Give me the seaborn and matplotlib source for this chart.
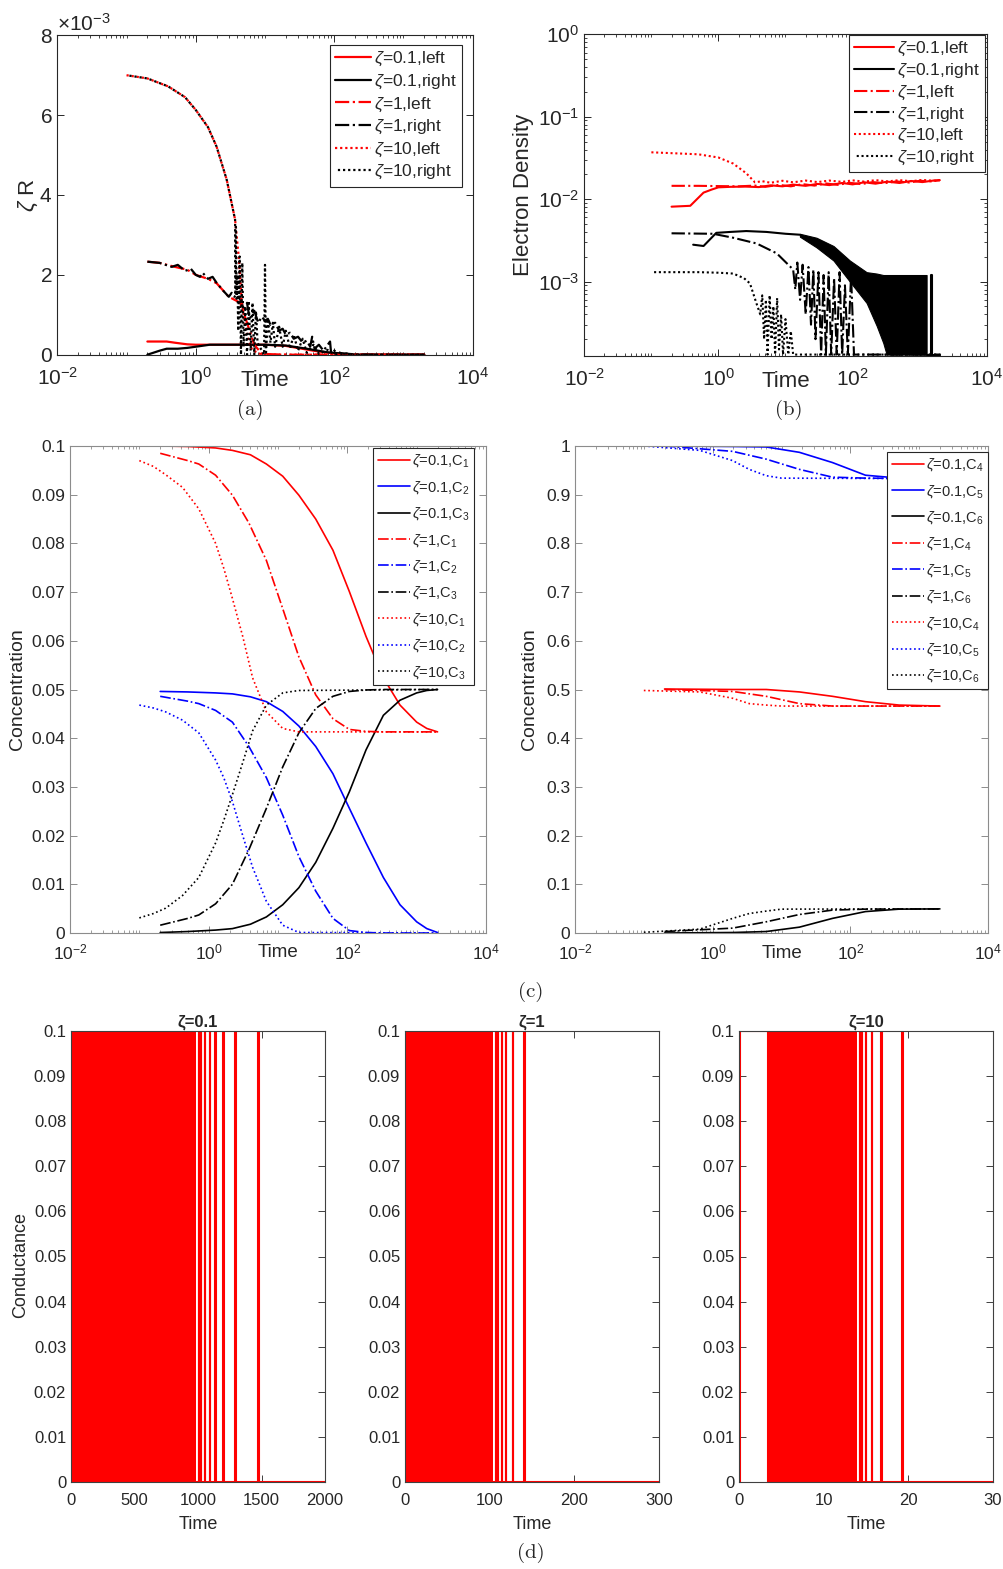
import matplotlib
matplotlib.use('Agg')
import matplotlib.pyplot as plt
import matplotlib.ticker as mticker
import numpy as np
import seaborn as sns

# ---------------- (a) zeta*R, values in units of 1e-3 ----------------
a_t_z01_left = [0.2, 0.38, 0.5, 0.75, 1.0, 3.0, 10, 20, 50, 100, 200, 2000]
a_v_z01_left = [0.33, 0.33, 0.30, 0.26, 0.25, 0.25, 0.25, 0.22, 0.10, 0.03, 0.0, 0.0]
a_t_z01_right = [0.2, 0.3, 0.38, 0.55, 0.75, 1.0, 1.6, 3.0, 10, 20, 40, 80, 150, 220, 2000]
a_v_z01_right = [0.0, 0.10, 0.15, 0.15, 0.17, 0.20, 0.25, 0.25, 0.25, 0.23, 0.15, 0.06, 0.02, 0.0, 0.0]
a_t_z1_left = [0.2, 0.3, 0.5, 0.75, 1.0, 1.5, 2.0, 3.0, 4.4, 5.5, 7.0, 9.0, 20, 2000]
a_v_z1_left = [2.33, 2.30, 2.20, 2.13, 2.00, 1.90, 1.79, 1.45, 1.30, 0.80, 0.25, 0.02, 0.0, 0.0]
a_t_z1_right = [0.2, 0.3, 0.45, 0.55, 0.7, 0.85, 1.0, 1.15, 1.26, 1.5,
                1.75, 2.0, 2.5, 3.0, 3.3, 3.6, 4.0, 4.5, 5.0, 5.5,
                6.0, 7.0, 8.0, 9.0, 10, 11, 12, 14, 16, 18,
                20, 23, 26, 30, 35, 40, 45, 48, 52, 60,
                70, 87, 90, 100, 130, 200, 400, 2000]
a_v_z1_right = [2.33, 2.30, 2.20, 2.25, 2.10, 2.15, 2.00, 1.95, 2.05, 1.90,
                1.95, 1.80, 1.60, 1.45, 1.55, 1.45, 1.50, 1.35, 1.10, 1.30,
                0.90, 1.10, 0.80, 0.95, 0.85, 0.90, 0.75, 0.80, 0.60, 0.65,
                0.50, 0.55, 0.40, 0.45, 0.30, 0.35, 0.20, 0.45, 0.15, 0.25,
                0.10, 0.33, 0.05, 0.10, 0.03, 0.01, 0.0, 0.0]
a_t_z10_left = [0.1, 0.2, 0.4, 0.7, 1.0, 1.5, 2.0, 2.8, 3.7, 4.2, 4.6, 5.5, 6.5, 9.0, 20, 2000]
a_v_z10_left = [7.0, 6.92, 6.72, 6.45, 6.13, 5.70, 5.21, 4.38, 3.38, 2.40, 1.33, 0.50, 0.12, 0.0, 0.0, 0.0]
a_t_z10_right = [0.1, 0.2, 0.4, 0.7, 1.0, 1.5, 2.0, 2.8, 3.7,
                 3.75, 3.8, 3.9, 4.0, 4.1, 4.3, 4.5, 4.7, 4.9, 5.2,
                 5.5, 5.8, 6.2, 6.6, 7.0, 7.4, 7.8, 9.7, 10.0, 10.3,
                 11, 12, 13, 14, 16, 18, 20, 23, 26, 30,
                 35, 40, 50, 60, 80, 100, 150, 200, 2000]
a_v_z10_right = [7.0, 6.92, 6.72, 6.45, 6.13, 5.70, 5.21, 4.38, 3.38,
                 1.50, 3.20, 1.40, 2.00, 0.60, 2.46, 0.0, 2.30, 0.20, 1.20,
                 0.0, 1.35, 0.10, 1.30, 0.0, 1.10, 0.30, 0.0, 2.25, 0.0,
                 0.90, 0.30, 0.80, 0.20, 0.70, 0.20, 0.60, 0.15, 0.50, 0.10,
                 0.40, 0.05, 0.25, 0.02, 0.12, 0.01, 0.03, 0.0, 0.0]

# ---------------- (b) electron density ----------------
b_t_z01_left = [0.2, 0.38, 0.6, 0.8, 1.0, 1.5, 2.5, 4, 6, 9,
                13, 20, 30, 45, 70, 100, 150, 220, 330, 500,
                750, 1100, 1600, 2000]
b_v_z01_left = [0.0081, 0.0083, 0.0120, 0.0131, 0.0139, 0.0141, 0.0142, 0.0140, 0.0147, 0.0143,
                0.0150, 0.0145, 0.0153, 0.0148, 0.0157, 0.0151, 0.0160, 0.0154, 0.0163, 0.0157,
                0.0166, 0.0161, 0.0168, 0.0170]
b_t_z01_right = [0.42, 0.6, 0.93, 1.5, 2.6, 5.2, 10, 16.4]
b_v_z01_right = [0.0028, 0.0027, 0.0039, 0.0040, 0.0041, 0.0040, 0.0038, 0.0037]
b_band_t = [16.4, 29, 52, 91, 162, 229, 287, 322, 600, 1000, 1270]
b_band_hi = [0.0038, 0.0034, 0.0027, 0.0018, 0.0013, 0.00125, 0.0012, 0.0012, 0.0012, 0.0012, 0.0012]
b_band_lo = [0.0035, 0.0026, 0.0018, 0.00100, 0.00055, 0.00029, 0.00018, 0.00013, 0.00013, 0.00013, 0.00013]
b_tail_t = [1270, 1500, 1500, 1510, 1510, 2000]
b_tail_v = [0.00013, 0.00013, 0.0012, 0.0012, 0.00013, 0.00013]
b_t_z1_left = [0.2, 0.5, 1.0, 2.0, 3.5, 5, 8, 12, 18, 27, 40, 60, 90, 135, 200, 300, 450, 700, 1000, 1500, 2000]
b_v_z1_left = [0.0145, 0.0145, 0.0144, 0.0143, 0.0146, 0.0141, 0.0149, 0.0143, 0.0152, 0.0146, 0.0155,
               0.0149, 0.0158, 0.0152, 0.0161, 0.0156, 0.0164, 0.0159, 0.0167, 0.0164, 0.0170]
b_t_z1_right = [0.2, 0.83, 1.66, 3.7, 7.4, 11, 13,
                14, 15, 16.5, 18, 20, 22, 24, 26, 28, 31,
                34, 37, 40, 44, 48, 53, 58, 64, 70, 77,
                85, 95, 105, 115, 2000]
b_v_z1_right = [0.00385, 0.0038, 0.0034, 0.0029, 0.0022, 0.0016, 0.0014,
                0.0008, 0.0017, 0.0006, 0.0016, 0.0004, 0.0015, 0.0003, 0.0014, 0.0002, 0.0013,
                0.00013, 0.0012, 0.00013, 0.0013, 0.00013, 0.0011, 0.00013, 0.0013, 0.00013, 0.0009,
                0.00013, 0.0012, 0.00013, 0.00013, 0.00013]
b_t_z10_left = [0.1, 0.5, 1.0, 1.66, 2.6, 3.5, 4.5, 6, 9, 13,
                20, 30, 45, 70, 100, 150, 220, 330, 500, 750,
                1100, 1600, 2000]
b_v_z10_left = [0.037, 0.035, 0.032, 0.027, 0.0206, 0.016, 0.0165, 0.0158, 0.0167, 0.0160,
                0.0168, 0.0161, 0.0168, 0.0162, 0.0169, 0.0163, 0.0170, 0.0164, 0.0170, 0.0165,
                0.0171, 0.0167, 0.0170]
b_t_z10_right = [0.1, 0.5, 1.0, 1.66, 2.4, 2.95, 3.7, 4.2,
                 4.5, 4.8, 5.1, 5.4, 5.8, 6.2, 6.6, 7.0, 7.5, 8.0,
                 8.6, 9.2, 10, 11, 12, 13, 2000]
b_v_z10_right = [0.0013, 0.0013, 0.00128, 0.00125, 0.0011, 0.00095, 0.00054, 0.0004,
                 0.00068, 0.0002, 0.0006, 0.00013, 0.00068, 0.0002, 0.0005, 0.00013, 0.00063, 0.00015,
                 0.0004, 0.00013, 0.00035, 0.00013, 0.00025, 0.00013, 0.00013]

# ---------------- (c) concentrations ----------------
c_t_z01 = [0.2, 0.5, 1.26, 2.2, 4.0, 6.8, 11.7, 20, 35, 62, 107, 186, 331, 575, 1000, 1400, 2000]
c_C1_z01 = [0.1, 0.0999, 0.0996, 0.0991, 0.0982, 0.0963, 0.0938, 0.0899, 0.085, 0.0786, 0.0701,
            0.0609, 0.0524, 0.0468, 0.0433, 0.0420, 0.0413]
c_C2_z01 = [0.0496, 0.0495, 0.0493, 0.0491, 0.0485, 0.0475, 0.0455, 0.0425, 0.0383, 0.0327, 0.0256,
            0.0185, 0.0114, 0.0058, 0.0023, 0.0009, 0.0001]
c_C3_z01 = [0.0001, 0.0003, 0.0006, 0.0009, 0.0018, 0.0033, 0.0058, 0.0093, 0.0145, 0.0215, 0.029,
            0.0376, 0.0447, 0.0478, 0.0493, 0.0498, 0.05]
c_t_z1 = [0.2, 0.5, 0.72, 1.26, 2.2, 3.8, 6.8, 11.7, 20, 35, 62, 107, 186, 331, 2000]
c_C1_z1 = [0.0985, 0.0970, 0.0963, 0.0940, 0.0899, 0.0842, 0.0765, 0.0666, 0.0567, 0.0489, 0.0440,
           0.0418, 0.0414, 0.0413, 0.0413]
c_C2_z1 = [0.0486, 0.0476, 0.0471, 0.0457, 0.0433, 0.0383, 0.0319, 0.0242, 0.0157, 0.0086, 0.003,
           0.0005, 0.0001, 0.0, 0.0]
c_C3_z1 = [0.0016, 0.003, 0.0037, 0.006, 0.01, 0.0171, 0.0256, 0.0341, 0.0411, 0.0461, 0.0486,
           0.0496, 0.0499, 0.05, 0.05]
c_t_z10 = [0.1, 0.16, 0.24, 0.42, 0.72, 1.26, 1.66, 2.2, 3.1, 4.3, 6.8, 11.7, 20, 2000]
c_C1_z10 = [0.097, 0.0958, 0.0941, 0.0915, 0.0871, 0.080, 0.0748, 0.0687, 0.0609, 0.0524, 0.0454,
            0.0420, 0.0413, 0.0413]
c_C2_z10 = [0.0468, 0.0462, 0.0454, 0.0437, 0.0411, 0.0355, 0.0318, 0.027, 0.020, 0.0135, 0.0065,
            0.0016, 0.0001, 0.0]
c_C3_z10 = [0.0031, 0.004, 0.0051, 0.0077, 0.0114, 0.0185, 0.0232, 0.0284, 0.035, 0.0415, 0.0468,
            0.0493, 0.0498, 0.05]

c_t2_z01 = [0.2, 1.95, 6.0, 18.2, 55, 166, 513, 2000]
c_C4_z01 = [0.501, 0.500, 0.500, 0.495, 0.486, 0.475, 0.468, 0.466]
c_C5_z01 = [1.0, 0.999, 0.998, 0.987, 0.966, 0.940, 0.934, 0.933]
c_C6_z01 = [0.0, 0.001, 0.003, 0.012, 0.030, 0.044, 0.049, 0.0495]
c_t2_z1 = [0.2, 1.95, 6.0, 18.2, 55, 166, 2000]
c_C4_z1 = [0.500, 0.496, 0.486, 0.471, 0.466, 0.466, 0.466]
c_C5_z1 = [1.0, 0.989, 0.973, 0.952, 0.936, 0.934, 0.933]
c_C6_z1 = [0.003, 0.010, 0.023, 0.038, 0.047, 0.049, 0.0495]
c_t2_z10 = [0.1, 0.65, 1.95, 3.4, 6.0, 10, 2000]
c_C4_z10 = [0.498, 0.495, 0.482, 0.471, 0.468, 0.466, 0.466]
c_C5_z10 = [1.0, 0.991, 0.970, 0.952, 0.939, 0.934, 0.933]
c_C6_z10 = [0.0014, 0.008, 0.030, 0.040, 0.045, 0.049, 0.0495]

# ---------------- (d) conductance ----------------
d_titles = ['ζ=0.1', 'ζ=1', 'ζ=10']
d_tmax = [2000, 300, 30]
d_xticks = [[0, 500, 1000, 1500, 2000], [0, 100, 200, 300], [0, 10, 20, 30]]
d_dense = [(0, 982), (0, 103.6), (3.4, 13.9)]
d_pulse_on = [[1007, 1023, 1055, 1094, 1137, 1198, 1289, 1473],
              [107.5, 110, 114.6, 119, 127.6, 140.3],
              [0.1, 14.3, 14.5, 15.0, 15.7, 16.8, 19.25]]
d_pulse_off = [[1010, 1026, 1058, 1097, 1140, 1203, 1296, 1480],
               [107.9, 110.4, 115, 119.4, 128, 141.2],
               [3.4, 14.35, 14.55, 15.05, 15.75, 16.85, 19.4]]
d_high = 0.1

# ---------------- style ----------------
sns.set_style('ticks')
plt.rcParams['font.family'] = ['Liberation Sans', 'DejaVu Sans']
plt.rcParams.update({
    'mathtext.fontset': 'custom',
    'mathtext.rm': 'Liberation Sans',
    'mathtext.it': 'Liberation Sans:italic',
    'mathtext.bf': 'Liberation Sans:bold',
    'axes.linewidth': 0.8,
})
AX_COL = '#262626'
RED, BLUE, BLACK = '#ff0000', '#0000ff', '#000000'
DOT_R = (0, (1, 1.3))
DOT_K = (1.0, (1, 1.3))

fig = plt.figure(figsize=(10.04, 15.69), dpi=100)
W, H = 1004.0, 1569.0


def add_ax(left, top, right, bottom):
    return fig.add_axes([left / W, 1 - bottom / H, (right - left) / W, (bottom - top) / H])


def draw(ax, t, v, color, ls, lw, label=None, scale=1.0):
    sns.lineplot(x=np.asarray(t, float), y=np.asarray(v, float) * scale, ax=ax,
                 color=color, linestyle=ls, linewidth=lw, label=label,
                 estimator=None, sort=False)


def frame(ax, size, col=AX_COL, xpad=4):
    for s in ax.spines.values():
        s.set_color(col)
        s.set_linewidth(0.8)
    ax.tick_params(which='both', direction='in', top=True, right=True,
                   colors=col, labelcolor=AX_COL, labelsize=size)
    ax.tick_params(which='major', length=5, width=0.7)
    ax.tick_params(which='minor', length=2.5, width=0.6)
    ax.tick_params(axis='x', which='major', pad=xpad)


def log_x(ax):
    ax.set_xscale('log')
    ax.set_xlim(1e-2, 1e4)
    ax.set_xticks([1e-2, 1e0, 1e2, 1e4])
    ax.xaxis.set_minor_locator(mticker.LogLocator(base=10, subs=np.arange(1, 10), numticks=60))
    ax.xaxis.set_minor_formatter(mticker.NullFormatter())


def legend(ax, anchor, size, hl, spacing):
    h, l = ax.get_legend_handles_labels()
    leg = ax.legend(h, l, loc='upper right', bbox_to_anchor=anchor, fontsize=size,
                    handlelength=hl, handletextpad=0.15, labelspacing=spacing,
                    borderpad=0.3, borderaxespad=0, fancybox=False, framealpha=1,
                    edgecolor=AX_COL)
    leg.get_frame().set_linewidth(0.8)


def time_label(ax, y, size):
    ax.set_xlabel('Time', fontsize=size, color=AX_COL)
    ax.xaxis.set_label_coords(0.5, y)
    ax.xaxis.label.set_va('center')


def y_label(ax, text, x, size, y=0.5):
    ax.set_ylabel(text, fontsize=size, color=AX_COL)
    ax.yaxis.set_label_coords(x, y)
    ax.yaxis.label.set_va('center')


# ---------------- panel (a) ----------------
ax = add_ax(57.3, 35.3, 472.7, 354.7)
lw = 1.6
draw(ax, a_t_z01_left, a_v_z01_left, RED, '-', lw, r'$\zeta$=0.1,left', 1e-3)
draw(ax, a_t_z01_right, a_v_z01_right, BLACK, '-', lw, r'$\zeta$=0.1,right', 1e-3)
draw(ax, a_t_z1_left, a_v_z1_left, RED, '-.', lw, r'$\zeta$=1,left', 1e-3)
draw(ax, a_t_z1_right, a_v_z1_right, BLACK, '-.', lw, r'$\zeta$=1,right', 1e-3)
draw(ax, a_t_z10_left, a_v_z10_left, RED, DOT_R, lw, r'$\zeta$=10,left', 1e-3)
draw(ax, a_t_z10_right, a_v_z10_right, BLACK, DOT_K, lw, r'$\zeta$=10,right', 1e-3)
log_x(ax)
ax.set_ylim(0, 8e-3)
ax.set_yticks([0, 2e-3, 4e-3, 6e-3, 8e-3])
fmt = mticker.ScalarFormatter(useMathText=True)
fmt.set_powerlimits((-2, 2))
ax.yaxis.set_major_formatter(fmt)
frame(ax, 15, xpad=9)
ax.yaxis.get_offset_text().set_fontsize(15)
ax.yaxis.get_offset_text().set_color(AX_COL)
time_label(ax, -0.082, 16)
y_label(ax, r'$\zeta$ R', -0.07, 16)
legend(ax, (0.974, 0.970), 12.5, 2.1, 0.25)

# ---------------- panel (b) ----------------
ax = add_ax(584.3, 34.3, 986.7, 355.7)
lw = 1.5
draw(ax, b_t_z01_left, b_v_z01_left, RED, '-', lw, r'$\zeta$=0.1,left')
draw(ax, b_t_z01_right, b_v_z01_right, BLACK, '-', lw, r'$\zeta$=0.1,right')
ax.fill_between(b_band_t, b_band_lo, b_band_hi, color=BLACK, lw=0.8, edgecolor=BLACK)
draw(ax, b_tail_t, b_tail_v, BLACK, '-', lw)
draw(ax, b_t_z1_left, b_v_z1_left, RED, '-.', lw, r'$\zeta$=1,left')
draw(ax, b_t_z1_right, b_v_z1_right, BLACK, '-.', lw, r'$\zeta$=1,right')
draw(ax, b_t_z10_left, b_v_z10_left, RED, DOT_R, lw, r'$\zeta$=10,left')
draw(ax, b_t_z10_right, b_v_z10_right, BLACK, DOT_K, lw, r'$\zeta$=10,right')
log_x(ax)
ax.set_yscale('log')
ax.set_ylim(1.26e-4, 1)
ax.set_yticks([1e-3, 1e-2, 1e-1, 1e0])
ax.yaxis.set_minor_locator(mticker.LogLocator(base=10, subs=np.arange(2, 10), numticks=60))
ax.yaxis.set_minor_formatter(mticker.NullFormatter())
frame(ax, 15, xpad=9)
time_label(ax, -0.079, 16)
y_label(ax, 'Electron Density', -0.15, 16)
legend(ax, (0.995, 0.998), 12.5, 2.3, 0.2)

# ---------------- panel (c) left ----------------
ax = add_ax(70, 446, 486, 933)
lw = 1.2
draw(ax, c_t_z01, c_C1_z01, RED, '-', lw, r'$\zeta$=0.1,C$_1$')
draw(ax, c_t_z01, c_C2_z01, BLUE, '-', lw, r'$\zeta$=0.1,C$_2$')
draw(ax, c_t_z01, c_C3_z01, BLACK, '-', lw, r'$\zeta$=0.1,C$_3$')
draw(ax, c_t_z1, c_C1_z1, RED, '-.', lw, r'$\zeta$=1,C$_1$')
draw(ax, c_t_z1, c_C2_z1, BLUE, '-.', lw, r'$\zeta$=1,C$_2$')
draw(ax, c_t_z1, c_C3_z1, BLACK, '-.', lw, r'$\zeta$=1,C$_3$')
draw(ax, c_t_z10, c_C1_z10, RED, ':', lw, r'$\zeta$=10,C$_1$')
draw(ax, c_t_z10, c_C2_z10, BLUE, ':', lw, r'$\zeta$=10,C$_2$')
draw(ax, c_t_z10, c_C3_z10, BLACK, ':', lw, r'$\zeta$=10,C$_3$')
log_x(ax)
ax.set_ylim(0, 0.1)
ax.set_yticks(np.round(np.arange(0, 0.101, 0.01), 2))
ax.yaxis.set_major_formatter(mticker.FormatStrFormatter('%g'))
frame(ax, 12.5, '#8c8c8c', xpad=7)
time_label(ax, -0.04, 13.5)
y_label(ax, 'Concentration', -0.125, 14)
legend(ax, (0.971, 0.996), 10.5, 2.2, 0.65)

# ---------------- panel (c) right ----------------
ax = add_ax(575, 446, 988, 933)
draw(ax, c_t2_z01, c_C4_z01, RED, '-', lw, r'$\zeta$=0.1,C$_4$')
draw(ax, c_t2_z01, c_C5_z01, BLUE, '-', lw, r'$\zeta$=0.1,C$_5$')
draw(ax, c_t2_z01, c_C6_z01, BLACK, '-', lw, r'$\zeta$=0.1,C$_6$')
draw(ax, c_t2_z1, c_C4_z1, RED, '-.', lw, r'$\zeta$=1,C$_4$')
draw(ax, c_t2_z1, c_C5_z1, BLUE, '-.', lw, r'$\zeta$=1,C$_5$')
draw(ax, c_t2_z1, c_C6_z1, BLACK, '-.', lw, r'$\zeta$=1,C$_6$')
draw(ax, c_t2_z10, c_C4_z10, RED, ':', lw, r'$\zeta$=10,C$_4$')
draw(ax, c_t2_z10, c_C5_z10, BLUE, ':', lw, r'$\zeta$=10,C$_5$')
draw(ax, c_t2_z10, c_C6_z10, BLACK, ':', lw, r'$\zeta$=10,C$_6$')
log_x(ax)
ax.set_ylim(0, 1)
ax.set_yticks(np.round(np.arange(0, 1.01, 0.1), 1))
ax.yaxis.set_major_formatter(mticker.FormatStrFormatter('%g'))
frame(ax, 12.5, '#8c8c8c', xpad=7)
time_label(ax, -0.043, 13.5)
y_label(ax, 'Concentration', -0.109, 14)
legend(ax, (1.0, 0.988), 10.5, 2.2, 0.65)

# ---------------- panel (d) ----------------
for i, left in enumerate([71, 405, 739]):
    ax = add_ax(left, 1031, left + 254, 1482)
    ds, de = d_dense[i]
    ax.fill_between([ds, de], 0, d_high, color=RED, lw=0)
    # step signal built from pulse edges
    xs, ys = [0.0], [0.0]
    for on, off in zip(d_pulse_on[i], d_pulse_off[i]):
        xs += [on, on, off, off]
        ys += [0.0, d_high, d_high, 0.0]
    xs.append(d_tmax[i])
    ys.append(0.0)
    draw(ax, xs, ys, RED, '-', 1.5)
    ax.set_xlim(0, d_tmax[i])
    ax.set_ylim(0, d_high)
    ax.set_xticks(d_xticks[i])
    ax.set_yticks(np.round(np.arange(0, 0.101, 0.01), 2))
    ax.yaxis.set_major_formatter(mticker.FormatStrFormatter('%g'))
    frame(ax, 12, '#404040', xpad=8)
    ax.set_xlabel('Time', fontsize=13, color=AX_COL, labelpad=6)
    ax.set_title(d_titles[i], fontsize=12, fontweight='bold', pad=3)
    if i == 0:
        y_label(ax, 'Conductance', -0.197, 13, 0.481)

# ---------------- sub-figure captions ----------------
for txt, x, y in [('(a)', 250, 410), ('(b)', 789, 410), ('(c)', 531, 992), ('(d)', 531, 1553)]:
    fig.text(x / W, 1 - y / H, txt, fontsize=15, family='cmr10', ha='center', va='center')

fig.savefig('out.png', dpi=100)
